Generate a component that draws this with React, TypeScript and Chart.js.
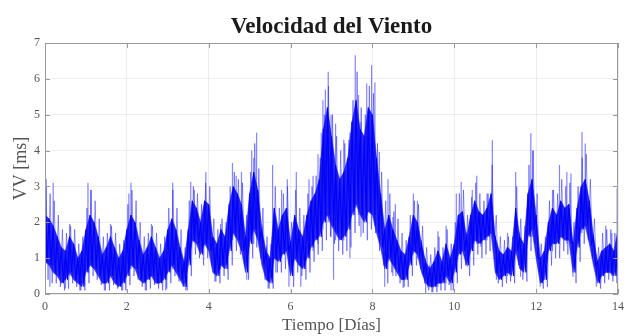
import React, { useEffect, useRef } from "react";
import { Chart, registerables } from "chart.js";

Chart.register(...registerables);

const chartTitle = "Velocidad del Viento";
const xTitle = "Tiempo [Días]";
const yTitle = "VV [ms]";
const xTicks = [0, 2, 4, 6, 8, 10, 12, 14];
const yTicks = [0, 1, 2, 3, 4, 5, 6, 7];
const stepDays = 0.1;

// dense core band of the series, one pair per 0.1 day (day 0 .. 14)
const coreHi = [
  2.2, 2.1, 1.9, 1.6, 1.3, 1.2, 1.6, 1.4, 1.0, 1.2,
  1.8, 2.2, 2.0, 1.6, 1.1, 1.3, 1.6, 1.3, 1.0, 1.2,
  1.8, 2.2, 2.0, 1.5, 1.1, 1.3, 1.6, 1.3, 1.0, 1.2,
  1.8, 2.1, 1.8, 1.3, 0.9, 1.8, 2.6, 2.4, 2.0, 2.6,
  2.5, 1.6, 1.4, 1.8, 1.6, 2.5, 3.0, 2.8, 2.5, 1.6,
  2.8, 3.4, 2.9, 1.8, 1.2, 1.0, 2.4, 1.8, 2.2, 2.4,
  1.4, 2.2, 1.8, 1.6, 2.2, 2.6, 2.8, 3.2, 4.6, 5.2,
  4.4, 3.6, 3.2, 3.4, 3.8, 4.8, 5.4, 4.6, 4.4, 5.2,
  5.0, 3.8, 2.8, 1.8, 2.2, 1.8, 1.5, 1.2, 1.1, 1.6,
  2.2, 2.0, 1.4, 0.9, 0.7, 0.9, 1.2, 0.9, 1.4, 1.0,
  1.4, 2.2, 2.3, 1.6, 2.2, 2.6, 2.3, 2.2, 2.4, 2.8,
  1.6, 1.2, 1.1, 1.3, 1.2, 2.4, 1.6, 1.4, 2.8, 3.2,
  2.2, 1.0, 1.2, 2.0, 2.4, 2.2, 2.6, 2.4, 2.5, 1.4,
  2.4, 3.0, 3.2, 2.6, 1.6, 0.9, 1.2, 1.3, 1.4, 1.2,
  1.8,
];
const coreLo = [
  0.9, 0.8, 0.6, 0.5, 0.3, 0.4, 0.6, 0.4, 0.3, 0.2,
  0.6, 0.8, 0.7, 0.5, 0.3, 0.3, 0.5, 0.3, 0.2, 0.3,
  0.5, 0.8, 0.7, 0.4, 0.3, 0.4, 0.5, 0.3, 0.3, 0.4,
  0.6, 0.8, 0.6, 0.4, 0.2, 0.8, 1.5, 1.4, 1.1, 1.4,
  1.2, 0.6, 0.5, 0.8, 0.7, 1.2, 1.7, 1.5, 1.2, 0.6,
  1.4, 1.8, 1.5, 0.8, 0.4, 0.3, 1.0, 0.9, 1.1, 1.2,
  0.5, 1.0, 0.8, 0.7, 1.0, 1.3, 1.5, 1.6, 2.0, 2.2,
  1.9, 1.7, 1.5, 1.6, 1.8, 2.2, 2.5, 2.2, 2.0, 2.3,
  2.2, 1.7, 1.3, 0.7, 1.0, 0.8, 0.6, 0.4, 0.4, 0.8,
  1.2, 1.1, 0.6, 0.3, 0.2, 0.2, 0.3, 0.3, 0.5, 0.3,
  0.6, 1.1, 1.2, 0.8, 1.2, 1.5, 1.4, 1.5, 1.6, 1.7,
  0.6, 0.4, 0.5, 0.6, 0.5, 1.2, 0.7, 0.6, 1.6, 1.8,
  1.0, 0.3, 0.4, 1.2, 1.4, 1.4, 1.6, 1.5, 1.5, 0.6,
  1.3, 1.8, 1.9, 1.4, 0.8, 0.3, 0.5, 0.6, 0.6, 0.5,
  0.9,
];

// lighter outer fringe of the series, one pair per 0.1 day
const fringeHi = [
  3.0, 2.8, 2.6, 2.2, 1.8, 1.7, 1.9, 1.8, 1.4, 1.6,
  2.4, 2.9, 2.6, 2.1, 1.6, 1.7, 1.9, 1.7, 1.4, 1.5,
  2.5, 2.9, 2.6, 2.0, 1.6, 1.7, 1.9, 1.7, 1.4, 1.6,
  2.4, 2.9, 2.4, 1.8, 1.3, 2.6, 3.0, 2.8, 2.5, 3.1,
  3.0, 2.1, 1.8, 2.1, 2.0, 3.0, 3.4, 3.2, 3.1, 2.2,
  3.4, 4.2, 3.5, 2.4, 1.6, 1.4, 3.0, 2.4, 2.8, 3.0,
  2.0, 2.9, 2.4, 2.2, 2.8, 3.0, 3.3, 3.8, 5.0, 5.8,
  5.0, 4.4, 4.0, 4.2, 4.3, 5.4, 6.2, 5.2, 5.0, 5.8,
  5.6, 4.2, 3.4, 2.6, 2.8, 2.3, 2.1, 1.7, 1.5, 2.2,
  2.6, 2.5, 1.9, 1.3, 1.1, 1.3, 1.6, 1.3, 1.8, 1.4,
  2.0, 2.8, 2.9, 2.2, 2.7, 3.1, 2.8, 2.6, 2.8, 3.6,
  2.2, 1.6, 1.5, 1.6, 1.6, 3.0, 2.1, 1.9, 3.6, 4.0,
  2.8, 1.4, 1.6, 2.6, 2.9, 2.8, 3.2, 3.0, 3.1, 2.0,
  3.0, 3.8, 3.9, 3.2, 2.1, 1.3, 1.7, 1.8, 1.8, 1.7,
  2.6,
];
const fringeLo = [
  0.4, 0.3, 0.3, 0.2, 0.1, 0.15, 0.3, 0.2, 0.1, 0.1,
  0.3, 0.5, 0.4, 0.25, 0.1, 0.1, 0.25, 0.15, 0.1, 0.1,
  0.25, 0.5, 0.4, 0.2, 0.1, 0.15, 0.25, 0.15, 0.1, 0.15,
  0.3, 0.5, 0.35, 0.2, 0.1, 0.5, 1.1, 1.0, 0.8, 1.0,
  0.8, 0.35, 0.3, 0.5, 0.4, 0.8, 1.2, 1.1, 0.8, 0.4,
  1.0, 1.3, 1.0, 0.4, 0.15, 0.15, 0.6, 0.6, 0.7, 0.8,
  0.2, 0.6, 0.5, 0.4, 0.6, 0.9, 1.1, 1.2, 1.5, 1.6,
  1.4, 1.2, 1.1, 1.2, 1.3, 1.7, 1.9, 1.7, 1.5, 1.8,
  1.7, 1.2, 0.8, 0.3, 0.6, 0.5, 0.3, 0.2, 0.2, 0.5,
  0.8, 0.7, 0.3, 0.1, 0.05, 0.05, 0.1, 0.1, 0.25, 0.1,
  0.3, 0.7, 0.8, 0.5, 0.8, 1.1, 1.0, 1.1, 1.2, 1.3,
  0.3, 0.2, 0.3, 0.35, 0.3, 0.8, 0.4, 0.35, 1.2, 1.4,
  0.6, 0.15, 0.2, 0.8, 1.0, 1.0, 1.2, 1.1, 1.1, 0.3,
  0.9, 1.4, 1.5, 1.0, 0.5, 0.15, 0.3, 0.4, 0.35, 0.3,
  0.6,
];

// isolated gust spikes: day, lowest and highest value reached
const spikeDays = [
  0.03, 0.12, 0.2, 0.5, 0.6, 0.85, 1.05, 1.12, 1.45, 1.6,
  1.9, 2.05, 2.1, 2.45, 2.6, 2.95, 3.12, 3.44, 3.56, 3.65,
  3.93, 4.15, 4.29, 4.58, 4.67, 4.8, 4.93, 5.05, 5.1, 5.17,
  5.45, 5.56, 5.64, 5.78, 5.92, 5.96, 6.14, 6.25, 6.45, 6.55,
  6.67, 6.75, 6.79, 6.85, 6.92, 6.99, 7.05, 7.1, 7.3, 7.45,
  7.58, 7.66, 7.72, 7.86, 7.98, 8.06, 8.17, 8.3, 8.38, 8.5,
  8.56, 8.75, 9.0, 9.1, 9.3, 9.45, 9.6, 9.8, 9.92, 10.05,
  10.17, 10.32, 10.44, 10.55, 10.65, 10.8, 10.93, 11.03, 11.3, 11.5,
  11.62, 11.87, 11.92, 12.1, 12.25, 12.4, 12.57, 12.75, 12.85, 12.9,
  13.12, 13.2, 13.47, 13.7, 13.85, 13.98,
];
const spikeLo = [
  1.0, 0.2, 0.8, 0.15, 0.5, 0.1, 0.6, 0.9, 0.1, 0.5,
  0.1, 0.7, 0.7, 0.1, 0.5, 0.1, 0.7, 0.1, 1.3, 1.5,
  1.4, 0.35, 0.7, 1.5, 1.6, 1.2, 0.4, 1.4, 1.4, 1.6,
  0.15, 1.0, 0.6, 1.0, 1.2, 0.2, 1.0, 0.2, 1.0, 1.2,
  1.4, 1.6, 1.8, 2.0, 2.0, 1.6, 0.4, 1.5, 1.5, 1.0,
  2.4, 2.2, 1.6, 2.0, 2.2, 1.9, 1.4, 0.2, 0.9, 0.5,
  0.7, 0.17, 1.1, 1.0, 0.0, 0.05, 0.2, 0.3, 0.1, 0.8,
  1.1, 0.76, 1.2, 1.4, 1.32, 1.5, 1.6, 0.4, 0.5, 1.1,
  0.48, 1.6, 1.6, 0.2, 0.39, 1.2, 1.4, 1.4, 1.4, 0.48,
  1.7, 1.8, 0.2, 0.6, 0.5, 0.8,
];
const spikeHi = [
  3.2, 1.5, 3.1, 1.0, 1.95, 1.0, 3.1, 2.9, 0.9, 1.95,
  0.8, 2.8, 3.1, 0.9, 1.95, 1.0, 3.1, 1.0, 3.13, 2.9,
  3.4, 1.3, 1.95, 3.65, 3.3, 3.4, 1.6, 4.0, 3.8, 4.5,
  1.0, 3.6, 1.8, 2.9, 3.2, 1.2, 3.4, 1.0, 3.2, 3.3,
  3.9, 4.5, 5.4, 5.7, 6.2, 5.0, 1.8, 4.75, 4.3, 4.5,
  6.66, 5.55, 4.8, 5.87, 6.38, 5.9, 3.96, 1.2, 3.2, 2.15,
  2.5, 0.9, 2.8, 2.6, 0.6, 0.6, 1.75, 1.9, 0.8, 2.8,
  3.13, 1.5, 2.9, 3.3, 2.2, 2.8, 4.29, 1.3, 1.7, 3.4,
  1.3, 4.48, 4.0, 0.9, 1.2, 2.9, 3.6, 3.4, 3.36, 1.3,
  4.52, 4.2, 0.9, 1.9, 1.7, 2.95,
];

const PLOT_LEFT = 45;
const PLOT_BOTTOM_GAP = 42;
const SERIF = "'Liberation Serif', 'Times New Roman', serif";

const framePlugin = {
  id: "frame",
  afterDatasetsDraw(chart: any) {
    const { ctx, chartArea, scales } = chart;
    const { left, right, top, bottom } = chartArea;
    ctx.save();
    ctx.strokeStyle = "#9a9a9a";
    ctx.lineWidth = 1;
    ctx.strokeRect(left + 0.5, top + 0.5, right - left - 1, bottom - top - 1);
    ctx.beginPath();
    const tl = 5;
    for (const v of xTicks) {
      const x = Math.round(scales.x.getPixelForValue(v)) + 0.5;
      ctx.moveTo(x, bottom);
      ctx.lineTo(x, bottom - tl);
      ctx.moveTo(x, top);
      ctx.lineTo(x, top + tl);
    }
    for (const v of yTicks) {
      const y = Math.round(scales.y.getPixelForValue(v)) + 0.5;
      ctx.moveTo(left, y);
      ctx.lineTo(left + tl, y);
      ctx.moveTo(right, y);
      ctx.lineTo(right - tl, y);
    }
    ctx.stroke();
    ctx.restore();
  },
};

export default function App() {
  const ref = useRef<HTMLCanvasElement | null>(null);

  useEffect(() => {
    document.body.style.margin = "0";
    const core: { x: number; y: number }[] = [];
    const fringe: { x: number; y: number }[] = [];
    const upper: { x: number; y: number }[] = [];
    const lower: { x: number; y: number }[] = [];
    coreHi.forEach((v, i) => {
      const t = i * stepDays;
      core.push({ x: t, y: v });
      core.push({ x: t + stepDays / 2, y: coreLo[i] });
      fringe.push({ x: t + stepDays / 4, y: fringeHi[i] });
      fringe.push({ x: t + (3 * stepDays) / 4, y: fringeLo[i] });
      upper.push({ x: t, y: v });
      lower.push({ x: t, y: coreLo[i] });
    });
    const spikes: { x: number; y: number | null }[] = [];
    spikeDays.forEach((d, i) => {
      spikes.push({ x: d, y: spikeLo[i] });
      spikes.push({ x: d, y: spikeHi[i] });
      spikes.push({ x: d, y: null });
    });

    const chart = new Chart(ref.current as HTMLCanvasElement, {
      type: "line",
      data: {
        datasets: [
          {
            data: spikes as any,
            borderColor: "rgba(50,50,255,0.6)",
            borderWidth: 1.2,
            pointRadius: 0,
            spanGaps: false,
            tension: 0,
            order: 5,
          },
          {
            data: fringe,
            borderColor: "rgba(40,40,255,0.5)",
            borderWidth: 1,
            pointRadius: 0,
            tension: 0,
            order: 4,
          },
          {
            data: upper,
            borderColor: "rgba(40,40,255,0.55)",
            borderWidth: 1,
            pointRadius: 0,
            tension: 0,
            fill: false,
            order: 3,
          },
          {
            data: lower,
            borderColor: "rgba(40,40,255,0.55)",
            borderWidth: 1,
            backgroundColor: "rgba(0,0,235,0.82)",
            pointRadius: 0,
            tension: 0,
            fill: "-1",
            order: 2,
          },
          {
            data: core,
            borderColor: "#0000ff",
            borderWidth: 1.2,
            pointRadius: 0,
            tension: 0,
            order: 1,
          },
        ],
      },
      plugins: [framePlugin],
      options: {
        animation: false,
        responsive: true,
        maintainAspectRatio: false,
        layout: { padding: { left: 0, right: 9, top: 0, bottom: 0 } },
        plugins: {
          legend: { display: false },
          tooltip: { enabled: false },
          title: {
            display: true,
            fullSize: false,
            text: chartTitle,
            color: "#1a1a1a",
            font: { family: SERIF, size: 23, weight: "bold" },
            padding: { top: 13, bottom: 2.4 },
          },
        },
        scales: {
          x: {
            type: "linear",
            min: 0,
            max: 14,
            offset: false,
            afterFit: (s: any) => {
              s.height = PLOT_BOTTOM_GAP;
            },
            afterBuildTicks: (s: any) => {
              s.ticks = xTicks.map((v) => ({ value: v }));
            },
            grid: { color: "rgba(0,0,0,0.07)", drawTicks: false },
            border: { display: false },
            ticks: {
              color: "#555",
              padding: 6,
              font: { family: SERIF, size: 12 },
            },
            title: {
              display: true,
              text: xTitle,
              color: "#555",
              font: { family: SERIF, size: 17 },
              padding: { top: 0, bottom: 0 },
            },
          },
          y: {
            type: "linear",
            min: 0,
            max: 7,
            afterFit: (s: any) => {
              s.width = PLOT_LEFT;
            },
            afterBuildTicks: (s: any) => {
              s.ticks = yTicks.map((v) => ({ value: v }));
            },
            grid: { color: "rgba(0,0,0,0.07)", drawTicks: false },
            border: { display: false },
            ticks: {
              color: "#555",
              padding: 5,
              font: { family: SERIF, size: 12 },
            },
            title: {
              display: true,
              text: yTitle,
              color: "#555",
              font: { family: SERIF, size: 18 },
              padding: { top: 10, bottom: 0 },
            },
          },
        },
      },
    });
    return () => chart.destroy();
  }, []);

  return (
    <div style={{ position: "relative", width: 630, height: 336 }}>
      <canvas ref={ref} />
    </div>
  );
}
